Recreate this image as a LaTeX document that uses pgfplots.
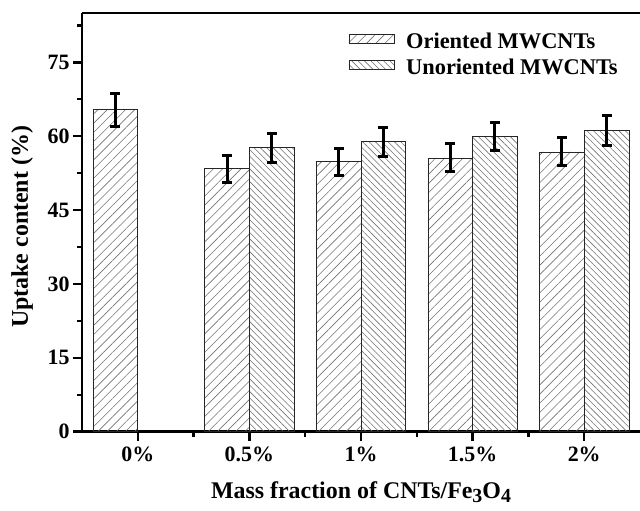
\documentclass[border=0pt]{standalone}
\usepackage{fontspec}
\setmainfont{Liberation Serif}
\usepackage{pgfplots}
\usepackage{pgfplotstable}
\pgfplotsset{compat=1.18}
\usetikzlibrary{patterns.meta}

\pgfplotstableread{
x y e
-0.2 65.35 3.4
0.8 53.4 2.75
1.8 54.8 2.75
2.8 55.6 2.85
3.8 56.8 2.85
}\oriented
\pgfplotstableread{
x y e
1.2 57.65 2.9
2.2 58.9 2.95
3.2 59.9 2.9
4.2 61.2 3.0
}\unoriented

\begin{document}
\begin{tikzpicture}
\begin{axis}[
  scale only axis, width=558bp, height=418.7bp,
  xmin=-0.5, xmax=4.5, ymin=0, ymax=85,
  clip=false,
  axis x line*=bottom, axis y line*=left,
  axis line style={line width=2.5bp, black},
  ytick={0,15,30,45,60,75}, minor ytick={7.5,22.5,37.5,52.5,67.5,82.5},
  xtick={0,1,2,3,4}, xticklabels={0\%,0.5\%,1\%,1.5\%,2\%},
  minor xtick={0.5,1.5,2.5,3.5},
  tick align=outside,
  major tick length=9bp, minor tick length=5bp,
  every tick/.style={black, line width=2.5bp},
  ticklabel style={font=\fontsize{22}{26}\selectfont\bfseries},
  x tick label style={yshift=-3bp},
  /pgf/number format/assume math mode=true,
  xlabel={Mass fraction of CNTs/Fe\raisebox{-0.4ex}{\fontsize{20}{20}\selectfont 3}O\raisebox{-0.4ex}{\fontsize{20}{20}\selectfont 4}},
  ylabel={Uptake content (\%)},
  label style={font=\fontsize{24}{28}\selectfont\bfseries},
  x label style={at={(axis description cs:0.5,-0.145)}, anchor=center},
  y label style={at={(axis description cs:-0.1075,0.489)}, anchor=center},
  legend style={draw=none, fill=none, at={(rel axis cs:0.472,0.962)}, anchor=north west,
    font=\fontsize{22.5}{26}\selectfont\bfseries, cells={anchor=west}, column sep=10bp, row sep=5bp},
  legend image code/.code={\draw[line width=0.6bp] (0bp,-1.5bp) rectangle (45bp,7.5bp);},
]
\addplot[ybar, bar width=0.4, bar shift=0, draw=black!85, line width=0.6bp,
  pattern={Lines[angle=45, distance=6.5bp, line width=0.6bp]}, pattern color=black!55,
  error bars/.cd, y dir=both, y explicit,
  error bar style={line width=3bp, black, solid},
  error mark options={rotate=90, mark size=5bp, line width=3bp, black}]
  table[x=x, y=y, y error=e] {\oriented};
\addlegendentry{Oriented MWCNTs}
\addplot[ybar, bar width=0.4, bar shift=0, draw=black!85, line width=0.6bp,
  pattern={Lines[angle=-45, distance=4.5bp, line width=0.6bp]}, pattern color=black!55,
  error bars/.cd, y dir=both, y explicit,
  error bar style={line width=3bp, black, solid},
  error mark options={rotate=90, mark size=5bp, line width=3bp, black}]
  table[x=x, y=y, y error=e] {\unoriented};
\addlegendentry{Unoriented MWCNTs}
\draw[line width=2.5bp, black] (rel axis cs:0,1) -- (rel axis cs:1,1);
\end{axis}
\pgfresetboundingbox
\useasboundingbox ([xshift=-82bp,yshift=-79.3bp]current axis.south west) rectangle ([yshift=13bp]current axis.north east);
\end{tikzpicture}
\end{document}
